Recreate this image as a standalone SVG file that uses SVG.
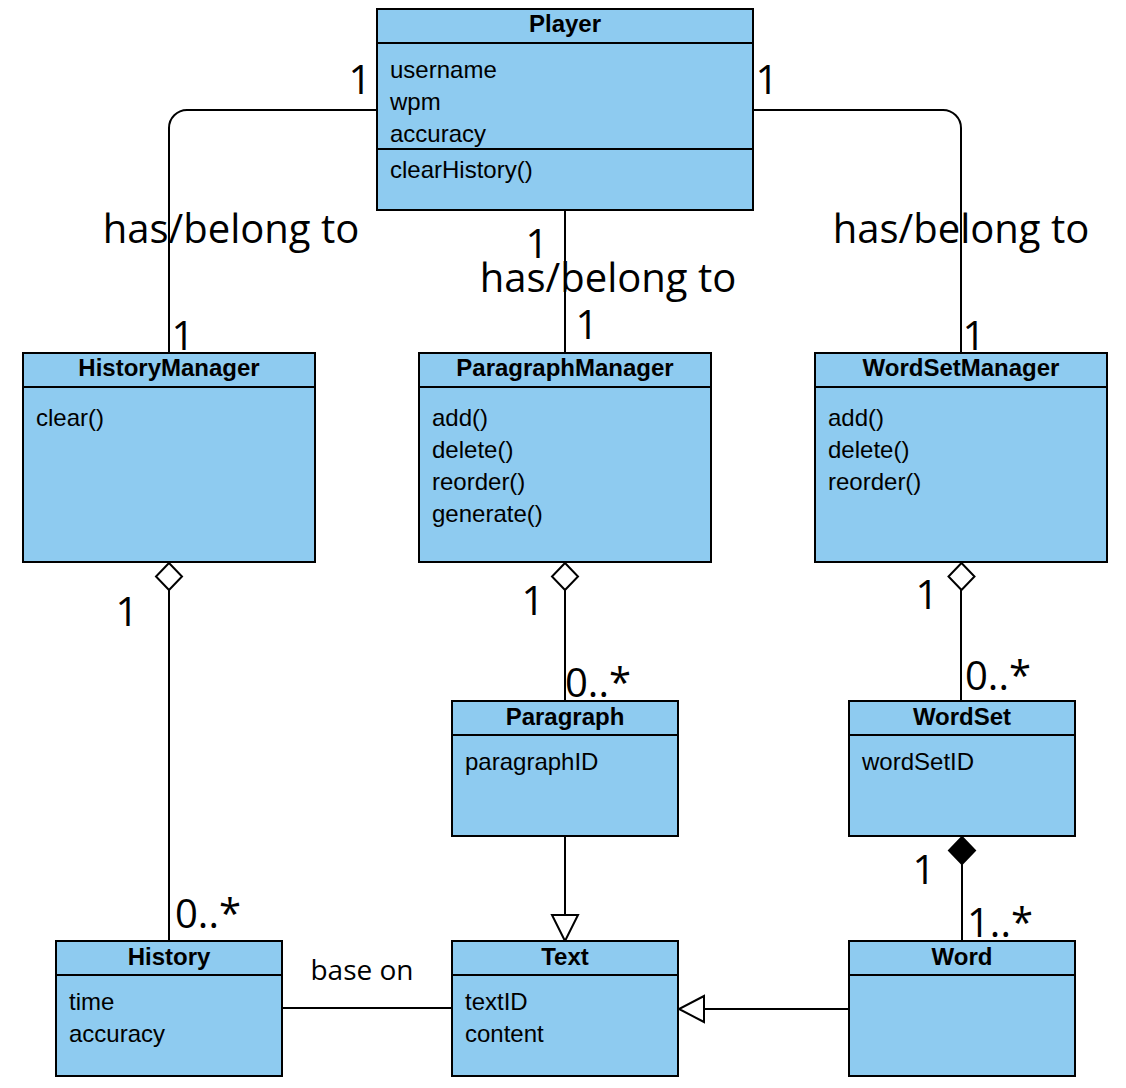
<svg xmlns="http://www.w3.org/2000/svg" width="1126" height="1088" viewBox="0 0 1126 1088">
<style>
.box{fill:#8ecbf0;stroke:#000;stroke-width:2}
.sep{stroke:#000;stroke-width:2}
.title{font-family:"Liberation Sans",Arial,sans-serif;font-size:24px;font-weight:bold;text-anchor:middle;fill:#000}
.item{font-family:"Liberation Sans",Arial,sans-serif;font-size:24px;fill:#000}
.lbl{font-family:"Open Sans","Noto Sans",sans-serif;font-size:40px;fill:#000}
.mid{text-anchor:middle}
.small{font-size:28px}
.edge{fill:none;stroke:#000;stroke-width:2}
.open{fill:#fff;stroke:#000;stroke-width:2}
.fill{fill:#000;stroke:#000;stroke-width:2}
</style>
<rect width="1126" height="1088" fill="#fff"/>
<g id="connectors">
<path class="edge" d="M377,110 H187 A18,18 0 0 0 169,128 V353"/>
<path class="edge" d="M753,110 H943 A18,18 0 0 1 961,128 V353"/>
<path class="edge" d="M565,210 V353"/>
<path class="edge" d="M169,590 V941"/>
<polygon class="open" points="169,563 182,576.5 169,590 156,576.5"/>
<path class="edge" d="M565,590 V701"/>
<polygon class="open" points="565,563 578,576.5 565,590 552,576.5"/>
<path class="edge" d="M961,590 V701"/>
<polygon class="open" points="961.5,563 974.5,576.5 961.5,590 948.5,576.5"/>
<path class="edge" d="M962,864 V941"/>
<polygon class="fill" points="962,837 975,850.5 962,864 949,850.5"/>
<path class="edge" d="M565,836 V915"/>
<polygon class="open" points="552,915 578,915 565,941"/>
<path class="edge" d="M849,1009 H704"/>
<polygon class="open" points="704,996 704,1022 679,1009"/>
<path class="edge" d="M282,1008 H452"/>
<text class="lbl mid" x="360" y="94">1</text>
<text class="lbl mid" x="767" y="94">1</text>
<text class="lbl mid" x="231" y="243">has/belong to</text>
<text class="lbl mid" x="961" y="243">has/belong to</text>
<text class="lbl mid" x="537" y="258">1</text>
<text class="lbl mid" x="608" y="292">has/belong to</text>
<text class="lbl mid" x="587" y="339">1</text>
<text class="lbl mid" x="183" y="350">1</text>
<text class="lbl mid" x="974" y="350">1</text>
<text class="lbl mid" x="127" y="626">1</text>
<text class="lbl mid" x="533" y="615">1</text>
<text class="lbl mid" x="927" y="609">1</text>
<text class="lbl" x="565" y="697">0..*</text>
<text class="lbl" x="965" y="690">0..*</text>
<text class="lbl" x="175" y="928">0..*</text>
<text class="lbl mid" x="924" y="884">1</text>
<text class="lbl" x="967" y="937">1..*</text>
<text class="lbl mid small" x="362" y="980">base on</text>
</g>
<g id="Player">
<rect class="box" x="377" y="9" width="376" height="201"/>
<line class="sep" x1="377" y1="43" x2="753" y2="43"/>
<line class="sep" x1="377" y1="149" x2="753" y2="149"/>
<text class="title" x="565" y="32">Player</text>
<text class="item" x="390" y="78">username</text>
<text class="item" x="390" y="110">wpm</text>
<text class="item" x="390" y="142">accuracy</text>
<text class="item" x="390" y="178">clearHistory()</text>
</g>
<g id="HistoryManager">
<rect class="box" x="23" y="353" width="292" height="209"/>
<line class="sep" x1="23" y1="387" x2="315" y2="387"/>
<text class="title" x="169" y="376">HistoryManager</text>
<text class="item" x="36" y="426">clear()</text>
</g>
<g id="ParagraphManager">
<rect class="box" x="419" y="353" width="292" height="209"/>
<line class="sep" x1="419" y1="387" x2="711" y2="387"/>
<text class="title" x="565" y="376">ParagraphManager</text>
<text class="item" x="432" y="426">add()</text>
<text class="item" x="432" y="458">delete()</text>
<text class="item" x="432" y="490">reorder()</text>
<text class="item" x="432" y="522">generate()</text>
</g>
<g id="WordSetManager">
<rect class="box" x="815" y="353" width="292" height="209"/>
<line class="sep" x1="815" y1="387" x2="1107" y2="387"/>
<text class="title" x="961" y="376">WordSetManager</text>
<text class="item" x="828" y="426">add()</text>
<text class="item" x="828" y="458">delete()</text>
<text class="item" x="828" y="490">reorder()</text>
</g>
<g id="Paragraph">
<rect class="box" x="452" y="701" width="226" height="135"/>
<line class="sep" x1="452" y1="735" x2="678" y2="735"/>
<text class="title" x="565" y="725">Paragraph</text>
<text class="item" x="465" y="770">paragraphID</text>
</g>
<g id="WordSet">
<rect class="box" x="849" y="701" width="226" height="135"/>
<line class="sep" x1="849" y1="735" x2="1075" y2="735"/>
<text class="title" x="962" y="725">WordSet</text>
<text class="item" x="862" y="770">wordSetID</text>
</g>
<g id="History">
<rect class="box" x="56" y="941" width="226" height="135"/>
<line class="sep" x1="56" y1="975" x2="282" y2="975"/>
<text class="title" x="169" y="965">History</text>
<text class="item" x="69" y="1010">time</text>
<text class="item" x="69" y="1042">accuracy</text>
</g>
<g id="Text">
<rect class="box" x="452" y="941" width="226" height="135"/>
<line class="sep" x1="452" y1="975" x2="678" y2="975"/>
<text class="title" x="565" y="965">Text</text>
<text class="item" x="465" y="1010">textID</text>
<text class="item" x="465" y="1042">content</text>
</g>
<g id="Word">
<rect class="box" x="849" y="941" width="226" height="135"/>
<line class="sep" x1="849" y1="975" x2="1075" y2="975"/>
<text class="title" x="962" y="965">Word</text>
</g>
</svg>
